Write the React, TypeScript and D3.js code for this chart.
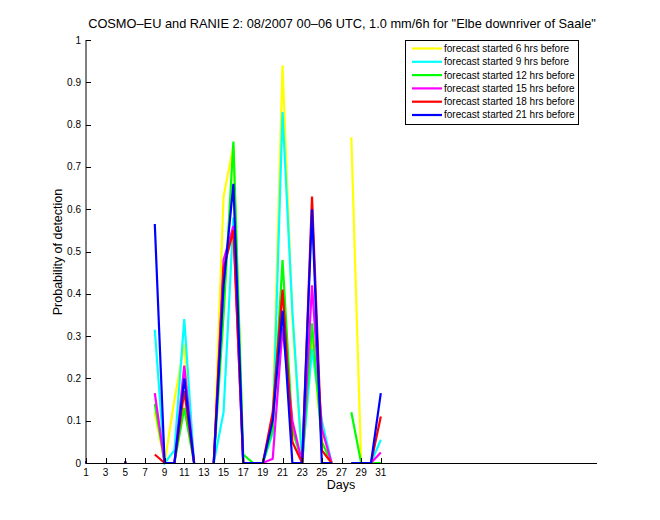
import React from "react";
import * as d3 from "d3";

const days: number[] = Array.from({ length: 31 }, (_, i) => i + 1);

const seriesNames: string[] = [
  "forecast started 6 hrs before",
  "forecast started 9 hrs before",
  "forecast started 12 hrs before",
  "forecast started 15 hrs before",
  "forecast started 18 hrs before",
  "forecast started 21 hrs before",
];
const seriesColors: string[] = ["#ffff00", "#00ffff", "#00ff00", "#ff00ff", "#ff0000", "#0000ff"];

const N = null;
//                1  2  3  4  5  6  7  8     9  10    11    12 13 14 15    16    17    18 19 20    21    22    23 24    25    26 27 28    29 30 31
const h6: (number | null)[] = [0, N, N, N, 0, N, N, 0.12, 0, 0.15, 0.28, 0, N, 0, 0.63, 0.75, 0, 0, 0, 0.1, 0.94, 0.34, 0, 0.3, 0.05, 0, N, 0.77, 0, 0, 0];
const h9: (number | null)[] = [0, N, N, N, 0, N, N, 0.315, 0, 0.03, 0.34, 0, N, 0, 0.12, 0.58, 0, 0, 0, 0.07, 0.83, 0.36, 0, 0.27, 0.1, 0, N, 0, 0, 0, 0.055];
const h12: (number | null)[] = [0, N, N, N, 0, N, N, 0.14, 0, 0, 0.13, 0, N, 0, 0.35, 0.76, 0.02, 0, 0, 0.08, 0.48, 0.08, 0, 0.33, 0.05, 0, N, 0.12, 0, 0, 0];
const h15: (number | null)[] = [0, N, N, N, 0, N, N, 0.165, 0, 0, 0.23, 0, N, 0, 0.48, 0.56, 0, 0, 0, 0.01, 0.32, 0.1, 0, 0.42, 0.08, 0, N, 0, 0, 0, 0.025];
const h18: (number | null)[] = [0, N, N, N, 0, N, N, 0.02, 0, 0, 0.17, 0, N, 0, 0.46, 0.55, 0, 0, 0, 0.12, 0.41, 0.05, 0, 0.63, 0.03, 0, N, 0, 0, 0, 0.11];
const h21: (number | null)[] = [0, N, N, N, 0, N, N, 0.565, 0, 0, 0.2, 0, N, 0, 0.42, 0.66, 0, 0, 0, 0.1, 0.36, 0, 0, 0.6, 0, 0, N, 0, 0, 0, 0.165];

const seriesValues = [h6, h9, h12, h15, h18, h21];

const xTicks: number[] = d3.range(1, 32, 2);
const yTicks: number[] = d3.range(0, 1.0001, 0.1);

const titleText = 'COSMO\u2013EU and RANIE 2: 08/2007 00\u201306 UTC, 1.0 mm/6h for "Elbe downriver of Saale"';

export default function App() {
  const W = 660, H = 520;
  const x = d3.scaleLinear().domain([1, 53]).range([86, 597]);
  const y = d3.scaleLinear().domain([0, 1]).range([463, 40]);
  const font = "'Liberation Sans', Arial, Helvetica, sans-serif";

  const line = d3
    .line<number | null>()
    .defined((d) => d !== null)
    .x((_, i) => x(days[i]))
    .y((d) => y(d as number));

  return (
    <svg width={W} height={H} style={{ position: "absolute", left: 0, top: 0, background: "#fff" }} fontFamily={font}>
      <rect x={0} y={0} width={W} height={H} fill="#fff" />
      {seriesValues.map((vals, si) => (
        <g key={si}>
          <path d={line(vals) || ""} fill="none" stroke={seriesColors[si]} strokeWidth={2.2} strokeLinejoin="miter" />
          {vals.map((v, i) => {
            const prev = i > 0 ? vals[i - 1] : null;
            const next = i < vals.length - 1 ? vals[i + 1] : null;
            if (v === null || prev !== null || next !== null) return null;
            return <rect key={i} x={x(days[i]) - 1} y={y(v) - 1.5} width={2} height={2} fill={seriesColors[si]} />;
          })}
        </g>
      ))}
      <line x1={86} x2={86} y1={40} y2={463} stroke="#000" strokeWidth={1} />
      <line x1={86} x2={597} y1={463.5} y2={463.5} stroke="#000" strokeWidth={1} />
      {yTicks.map((t, i) => (
        <g key={"y" + i}>
          <line x1={86} x2={91} y1={Math.round(y(t)) + 0.5} y2={Math.round(y(t)) + 0.5} stroke="#000" />
          <text x={81} y={y(t) + 3.5} fontSize={10} textAnchor="end" fill="#000">
            {d3.format("~g")(+t.toFixed(1))}
          </text>
        </g>
      ))}
      {xTicks.map((t) => (
        <g key={"x" + t}>
          <line x1={Math.round(x(t)) + 0.5} x2={Math.round(x(t)) + 0.5} y1={463} y2={458} stroke="#000" />
          <text x={x(t)} y={476} fontSize={10} textAnchor="middle" fill="#000">
            {t}
          </text>
        </g>
      ))}
      <text x={341} y={489} fontSize={12.5} textAnchor="middle" fill="#000">
        Days
      </text>
      <text transform="translate(62,252) rotate(-90)" fontSize={12.5} textAnchor="middle" fill="#000">
        Probability of detection
      </text>
      <text x={342} y={28} fontSize={12.8} textAnchor="middle" fill="#000">
        {titleText}
      </text>
      <rect x={405.5} y={40.5} width={173} height={84} fill="#fff" stroke="#000" strokeWidth={1} />
      {seriesNames.map((n, i) => {
        const ly = 48.5 + i * 13.3;
        return (
          <g key={n}>
            <line x1={412} x2={442} y1={ly} y2={ly} stroke={seriesColors[i]} strokeWidth={2.2} />
            <text x={444} y={ly + 3.4} fontSize={10} fill="#000">
              {n}
            </text>
          </g>
        );
      })}
    </svg>
  );
}
